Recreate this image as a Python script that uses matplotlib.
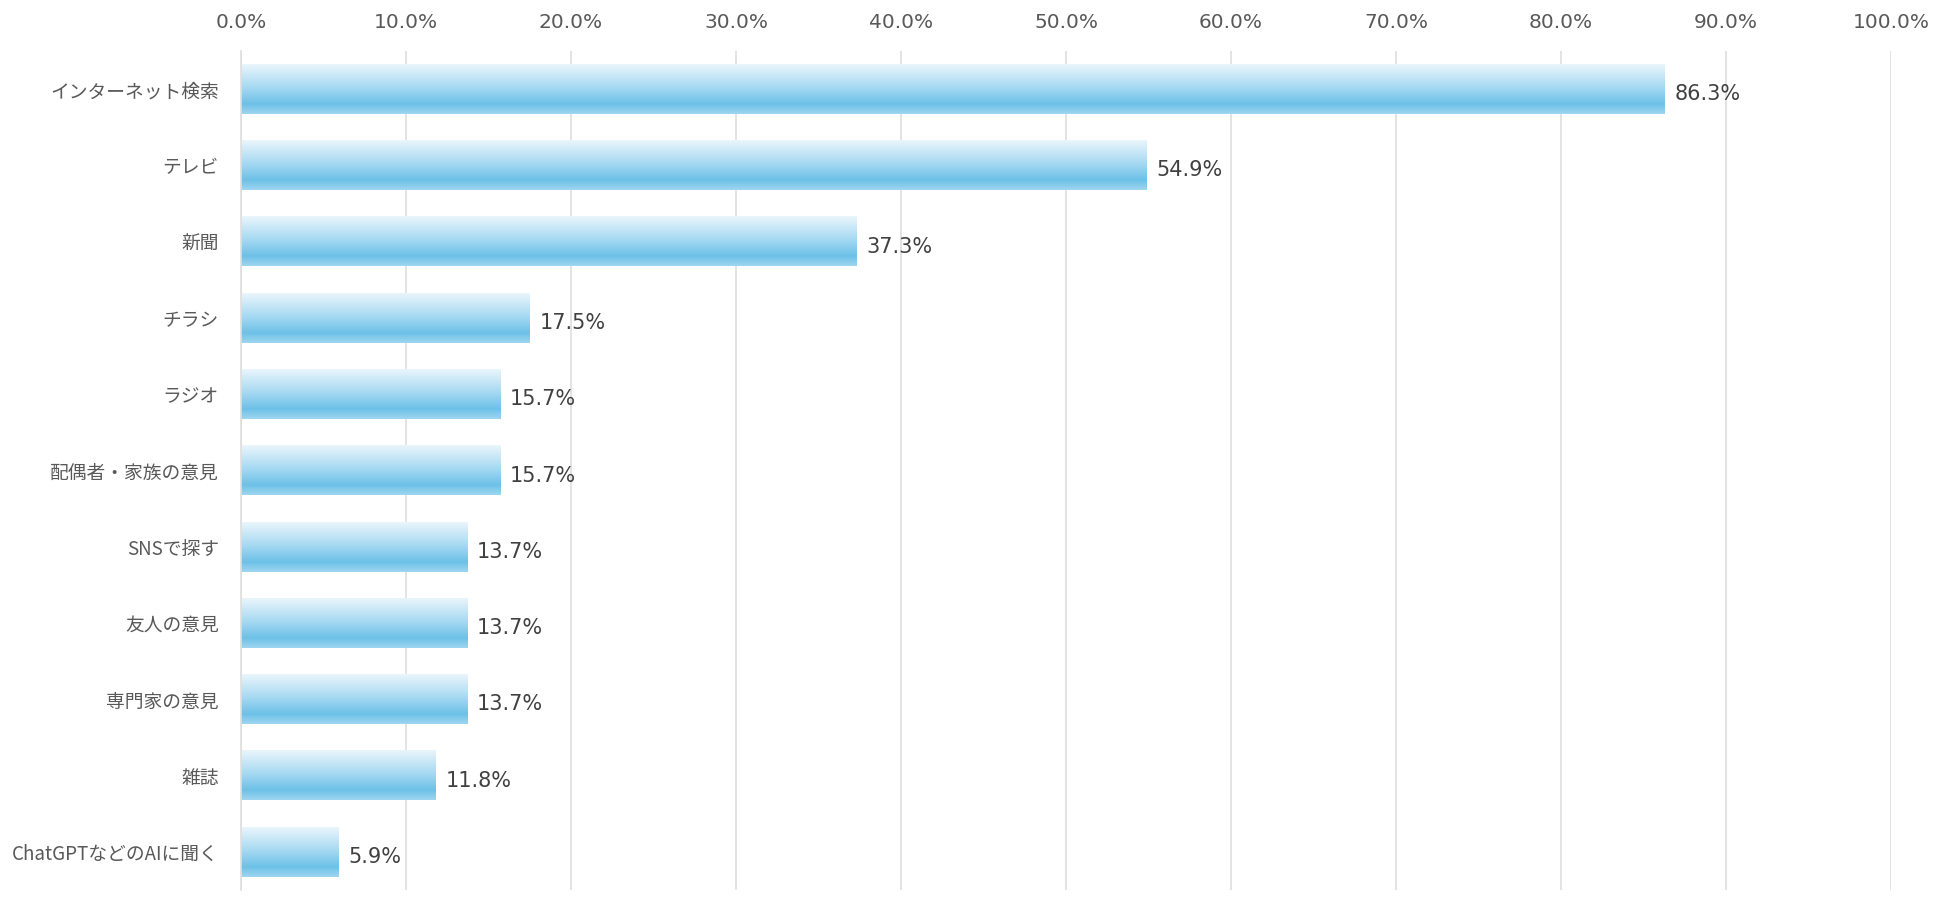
import numpy as np
import matplotlib.pyplot as plt
from matplotlib.colors import LinearSegmentedColormap
from matplotlib.ticker import FuncFormatter

plt.rcParams['font.family'] = ['Noto Sans CJK JP', 'DejaVu Sans']

# データ
categories = ['インターネット検索', 'テレビ', '新聞', 'チラシ', 'ラジオ',
              '配偶者・家族の意見', 'SNSで探す', '友人の意見', '専門家の意見',
              '雑誌', 'ChatGPTなどのAIに聞く']
values = [86.3, 54.9, 37.3, 17.5, 15.7, 15.7, 13.7, 13.7, 13.7, 11.8, 5.9]
xticks = [0, 10, 20, 30, 40, 50, 60, 70, 80, 90, 100]

# バーのグラデーション（上→下）
grad = LinearSegmentedColormap.from_list(
    'bar', [(0.0, '#eaf6fc'), (0.45, '#a9daf2'), (0.8, '#6cc1e8'), (1.0, '#9fd6f0')])

fig = plt.figure(figsize=(19.49, 9.07), dpi=100)
ax = fig.add_axes([0.1237, 0.0187, 0.8465, 0.9251])

bar_h = 0.65
ys = np.arange(len(categories))
gimg = np.linspace(0, 1, 256).reshape(-1, 1)
for y, v in zip(ys, values):
    ax.imshow(gimg, cmap=grad, aspect='auto', interpolation='bilinear',
              extent=[0, v, y + bar_h / 2, y - bar_h / 2], zorder=2)
    ax.text(v + 0.6, y + 0.04, f'{v:.1f}%', va='center_baseline', ha='left',
            fontsize=15, color='#404040', family=['DejaVu Sans'], zorder=3)

ax.set_xlim(0, 100)
ax.set_ylim(len(categories) - 0.5, -0.5)
ax.set_yticks(ys)
ax.set_yticklabels(categories, fontsize=13.5, color='#595959')
ax.set_xticks(xticks)
ax.xaxis.set_major_formatter(FuncFormatter(lambda x, p: f'{x:.1f}%'))
ax.xaxis.tick_top()
for lab in ax.get_xticklabels():
    lab.set_family(['DejaVu Sans'])
    lab.set_fontsize(14.5)
    lab.set_color('#595959')
ax.tick_params(axis='both', length=0)
ax.tick_params(axis='x', pad=14)
ax.tick_params(axis='y', pad=16)
ax.grid(axis='x', color='#dedede', linewidth=1.2, zorder=0)
ax.set_axisbelow(True)
for s in ['top', 'right', 'bottom']:
    ax.spines[s].set_visible(False)
ax.spines['left'].set_color('#dedede')
ax.spines['left'].set_linewidth(1.2)

plt.savefig('out.png', dpi=100)
